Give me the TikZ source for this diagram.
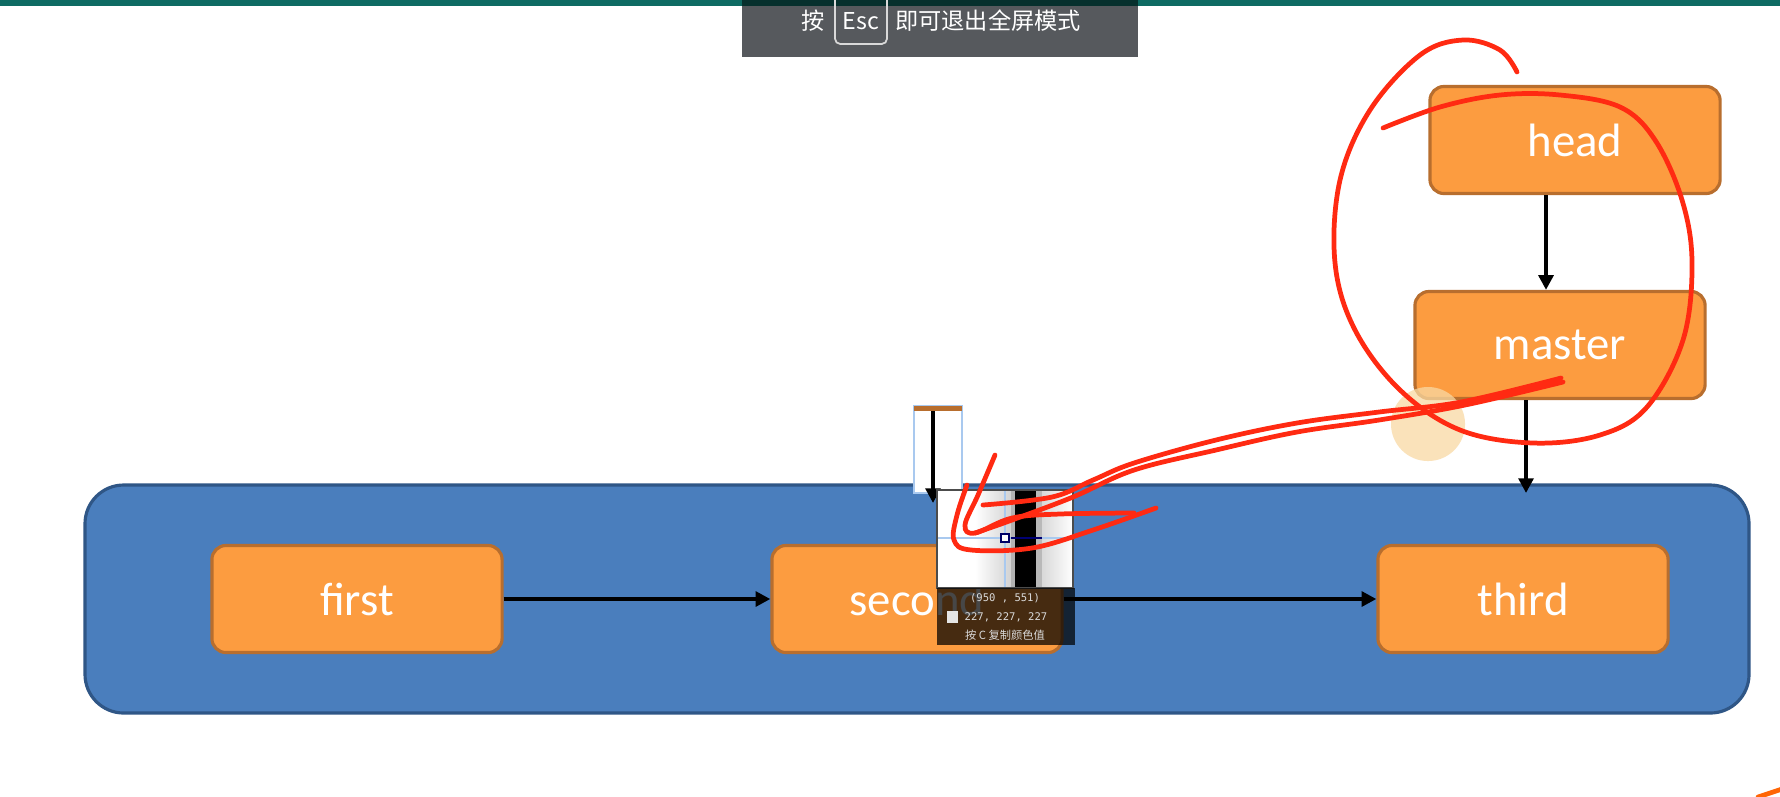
\documentclass[tikz,border=0pt]{standalone}
\usepackage{fontspec}
\setmainfont{Carlito}
\newfontfamily\cjk{Noto Sans CJK SC}
\newfontfamily\pixmono{DejaVu Sans Mono}
\usetikzlibrary{arrows.meta,positioning,calc}
\definecolor{gitOrange}{HTML}{FC9C40}
\definecolor{gitOrangeDark}{HTML}{B86E2E}
\definecolor{gitBlue}{HTML}{4A7EBD}
\definecolor{gitBlueDark}{HTML}{2F5686}
\definecolor{barTeal}{HTML}{0E6B63}
\definecolor{barGray}{HTML}{56595D}
\definecolor{inkRed}{HTML}{FF2A12}
\definecolor{glowOrange}{HTML}{F9D9A3}
\definecolor{pickBlue}{HTML}{A9C9EF}

\begin{document}
\begin{tikzpicture}[x=0.01cm, y=-0.01cm,
  branch/.style={draw=gitOrangeDark, line width=0.9pt, fill=gitOrange, rounded corners=4pt,
    minimum width=2.9cm, minimum height=1.07cm, text=white, font=\fontsize{13.3}{15}\selectfont},
  link/.style={line width=1.1pt, -{Triangle[length=4.2pt,width=4.2pt]}},
  ink/.style={inkRed, line width=1.35pt, line cap=round, line join=round},
  bartext/.style={text=white, inner sep=0pt, font=\cjk\fontsize{6.6}{8}\selectfont},
  picktext/.style={text=white!85!black, inner sep=0pt}]
\useasboundingbox (0,0) rectangle (1780,796);
\fill[white] (0,0) rectangle (1780,796);
\fill[barTeal] (0,0) rectangle (1780,6);
\draw[draw=gitBlueDark, line width=0.9pt, fill=gitBlue, rounded corners=11pt] (85,485) rectangle (1749,713);
\node[branch] (head) at (1575,140) {head};
\node[branch] (master) at (1560,345) {master};
\node[branch] (first) at (357,599) {first};
\node[branch] (second) at (917,599) {second};
\node[branch] (third) at (1523,599) {third};
\coordinate (tip) at (1526,493);
\draw[link] (first) -- (second);
\draw[link] (second) -- (third);
\draw[link] ([xshift=-0.29cm]head.south) -- ([xshift=-0.14cm]master.north);
\draw[link] (master.south -| tip) -- (tip);
\fill[glowOrange, opacity=0.75] (1428,424) circle (0.37cm);
\fill[white] (914,406) rectangle (962,493);
\draw[pickBlue, line width=0.6pt] (914,406) rectangle (962,493);
\fill[gitOrangeDark] (914,406) rectangle (962,411);
\coordinate (pin) at (933,503);
\draw[link] (933,411) -- (pin);
\fill[white] (937,490) rectangle (1073,588);
\shade[left color=white, right color=gray!35] (975,490) rectangle (1011,588);
\fill[gray!60] (1011,490) rectangle (1015,588);
\fill[black] (1015,490) rectangle (1036,588);
\fill[gray!55] (1036,490) rectangle (1042,588);
\shade[left color=gray!30, right color=white] (1042,490) rectangle (1073,588);
\draw[pickBlue, line width=0.8pt] (1005,490) -- (1005,588);
\draw[pickBlue, line width=0.8pt] (937,538) -- (1073,538);
\draw[blue!45!black, line width=0.8pt] (1011,538) -- (1042,538);
\draw[fill=white, draw=blue!40!black, line width=0.5pt] (1001,534) rectangle (1009,542);
\draw[black!70, line width=0.3pt] (937,490) rectangle (1073,588);
\fill[black, opacity=0.72] (937,588) rectangle (1075,645);
\node[picktext, font=\pixmono\fontsize{3}{3.5}\selectfont] (pos) at (1005,598) {(950 , 551)};
\fill[white!90!black] (947,611) rectangle (958,623);
\node[picktext, font=\pixmono\fontsize{3}{3.5}\selectfont] (rgb) at (1006,617) {227, 227, 227};
\node[picktext, font=\cjk\fontsize{3.2}{3.6}\selectfont] (copy) at (1005,635) {按 C 复制颜色值};
\draw[ink] plot[smooth, tension=0.6] coordinates {(1517,72) (1500,50) (1463,40) (1420,55) (1370,110) (1340,180) (1335,263) (1355,330) (1400,390) (1460,430) (1533,443) (1600,435) (1647,407) (1683,340) (1692,263) (1682,200) (1655,140) (1620,107) (1560,95) (1500,95) (1440,107) (1383,128)};
\draw[ink] plot[smooth, tension=0.6] coordinates {(1561,378) (1461,402) (1379,412) (1297,423) (1216,440) (1134,463) (1093,480) (1052,497) (983,505)};
\draw[ink] plot[smooth, tension=0.6] coordinates {(1563,382) (1465,405) (1379,420) (1297,432) (1216,450) (1134,470) (1073,497) (1012,520) (975,533)};
\draw[ink] plot[smooth, tension=0.6] coordinates {(995,455) (978,495) (965,525) (975,533) (1012,518) (1060,514) (1134,513)};
\draw[ink] plot[smooth, tension=0.6] coordinates {(967,485) (957,515) (954,540) (971,550) (1032,548) (1093,530) (1156,508)};
\draw[ink, orange!70!inkRed] (1758,797) -- (1782,789);
\fill[barGray] (742,0) rectangle (1138,57);
\fill[barTeal!45!black] (742,0) rectangle (1138,6);
\node[bartext] (press) at (813,21) {按};
\draw[white!85!black, line width=0.5pt, rounded corners=1.5pt] (835,-8) rectangle (887,44);
\node[bartext] (esc) at (861,21) {Esc};
\node[bartext] (quit) at (988,21) {即可退出全屏模式};
\end{tikzpicture}
\end{document}
